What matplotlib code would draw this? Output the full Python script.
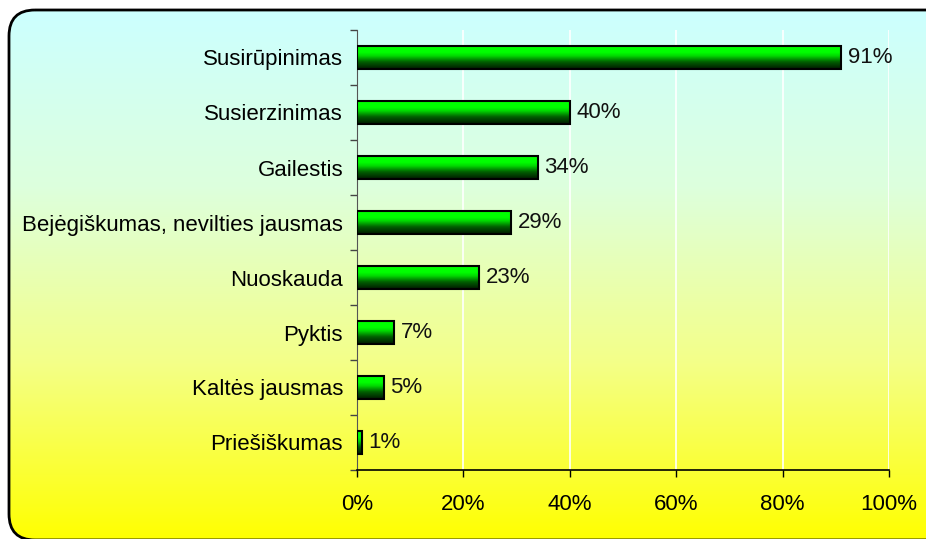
import numpy as np
import matplotlib
matplotlib.use("Agg")
import matplotlib.pyplot as plt
from matplotlib.patches import FancyBboxPatch
from matplotlib.colors import LinearSegmentedColormap

categories = ["Susirūpinimas", "Susierzinimas", "Gailestis",
              "Bejėgiškumas, nevilties jausmas", "Nuoskauda", "Pyktis",
              "Kaltės jausmas", "Priešiškumas"]
values = [91, 40, 34, 29, 23, 7, 5, 1]
xticks = [0, 20, 40, 60, 80, 100]

plt.rcParams['font.family'] = ['Liberation Sans', 'DejaVu Sans']
FS = 16

W, H = 926, 539
fig = plt.figure(figsize=(W / 100, H / 100), dpi=100)

# background gradient in rounded box
bg = fig.add_axes([0, 0, 1, 1])
bg.set_xlim(0, W)
bg.set_ylim(H, 0)
bg.axis('off')
bg_cmap = LinearSegmentedColormap.from_list('bg', ['#CCFFFF', '#DDFFDD', '#F4FF88', '#FFFF00'])
grad = np.linspace(0, 1, 256).reshape(-1, 1)
im = bg.imshow(grad, cmap=bg_cmap, aspect='auto', extent=[9, W + 30, 540, 10], zorder=0)
box = FancyBboxPatch((9, 10), W + 30, 530,
                     boxstyle="round,pad=0,rounding_size=26",
                     fc='none', ec='black', lw=2, zorder=2)
bg.add_patch(box)
im.set_clip_path(box)

# main axes
x0, x1 = 357, 889
y0, y1 = 30, 470
ax = fig.add_axes([x0 / W, 1 - y1 / H, (x1 - x0) / W, (y1 - y0) / H])
ax.patch.set_alpha(0)
n = len(categories)
ypos = np.arange(n)[::-1]
ax.set_xlim(0, 100)
ax.set_ylim(-0.5, n - 0.5)

bar_h = 0.42
bars = ax.barh(ypos, values, height=bar_h, color='none', edgecolor='black', lw=1.5, zorder=4)
green_cmap = LinearSegmentedColormap.from_list(
    'g', [(0, '#001a00'), (0.3, '#006000'), (0.55, '#00d800'), (0.7, '#00FF00'), (1, '#00FF00')])
for b in bars:
    bx, by = b.get_x(), b.get_y()
    bw, bh = b.get_width(), b.get_height()
    gim = ax.imshow(np.linspace(0, 1, 64).reshape(-1, 1), cmap=green_cmap, aspect='auto',
                    extent=[bx, bx + bw, by, by + bh], origin='lower', zorder=3)
    gim.set_clip_path(b)
    ax.text(bx + bw + 1.2, by + bh / 2, f"{int(round(bw))}%", va='center', ha='left',
            fontsize=FS, color='#111111')

ax.set_xticks(xticks)
ax.set_xticklabels([f"{v}%" for v in xticks], fontsize=FS)
ax.set_yticks(ypos)
ax.set_yticklabels(categories, fontsize=FS)
ax.tick_params(axis='y', length=0, pad=10)
ax.set_yticks(np.arange(-0.5, n, 1), minor=True)
ax.tick_params(axis='y', which='minor', length=5, color='#444444', width=1)
ax.tick_params(axis='x', length=5, width=1, color='black', pad=12)
ax.grid(axis='x', color='white', lw=1.2, zorder=1)
ax.set_axisbelow(True)
for s in ['top', 'right']:
    ax.spines[s].set_visible(False)
ax.spines['left'].set_color('#555555')
ax.spines['bottom'].set_color('black')
ax.spines['bottom'].set_linewidth(1.2)
ax.set_ylim(-0.5, n - 0.5)
ax.set_xlim(0, 100)

fig.savefig("out.png", dpi=100)
